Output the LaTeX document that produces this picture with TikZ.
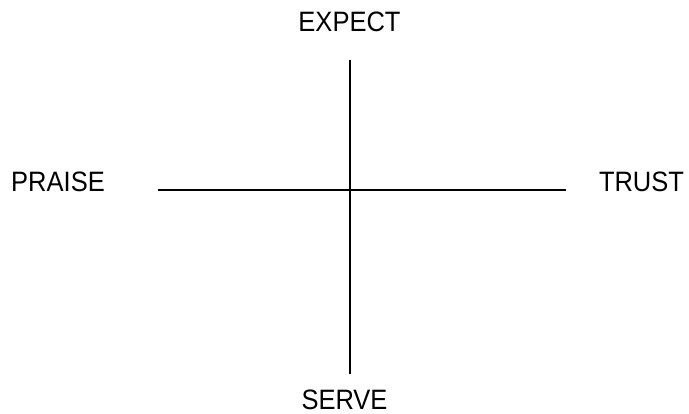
\documentclass[tikz,border=0pt]{standalone}
\usepackage{fontspec}
\setmainfont{Liberation Sans}
\usepackage{tikz}

\newcommand{\tallword}[1]{\scalebox{1}[1.1]{#1}}

\begin{document}
\begin{tikzpicture}[x=1pt, y=-1pt, inner sep=0pt, font=\fontsize{25.5}{30}\selectfont]
  \useasboundingbox (0,0) rectangle (689,414);
  % the two axes
  \coordinate (top) at (350,60);
  \coordinate (bottom) at (350,374);
  \coordinate (left) at (158,190);
  \coordinate (right) at (566,190);
  \draw[line width=1.6pt] (top) -- (bottom);
  \draw[line width=1.6pt] (left) -- (right);
  % the four ends
  \node (expect) at (349.5,22) {\tallword{EXPECT}};
  \node (serve) at (344.5,399.5) {\tallword{SERVE}};
  \node (praise) at (58,182) {\tallword{PRAISE}};
  \node (trust) at (641.5,182) {\tallword{TRUST}};
\end{tikzpicture}
\end{document}
